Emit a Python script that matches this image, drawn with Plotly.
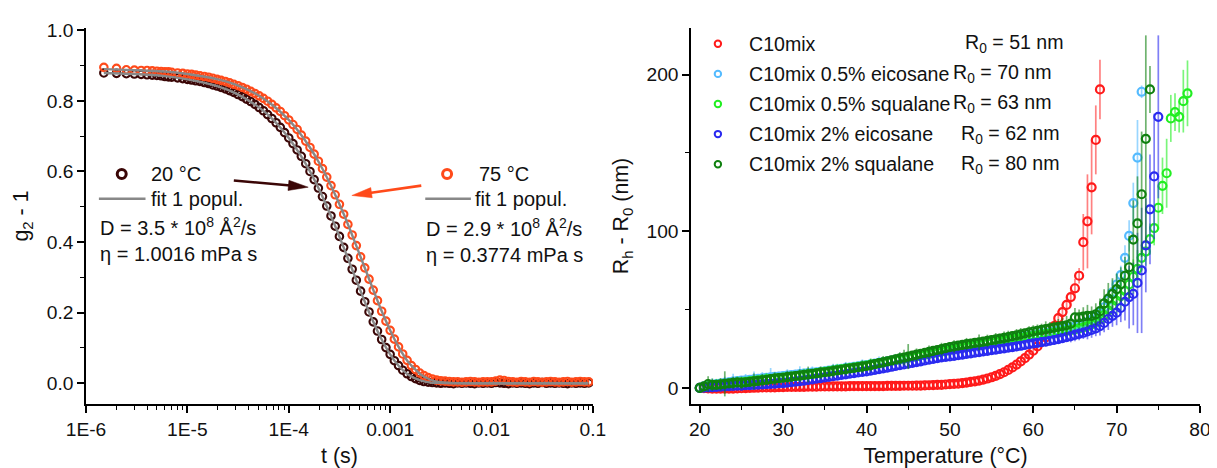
import math
import plotly.graph_objects as go

# ---------------- left panel data: DLS correlation functions ----------------
T_S = [1.5e-6, 2.0e-6, 2.5e-6, 3.0e-6, 3.5e-6, 4.0e-6, 4.5e-6, 5.0e-6, 5.5e-6, 6.0e-6, 6.5e-6, 7.0e-6, 8.0e-6, 9.0e-6,
       1.00e-5, 1.10e-5, 1.21e-5, 1.33e-5, 1.47e-5, 1.62e-5, 1.78e-5, 1.96e-5, 2.15e-5, 2.37e-5, 2.61e-5, 2.87e-5,
       3.16e-5, 3.48e-5, 3.83e-5, 4.22e-5, 4.64e-5, 5.11e-5, 5.62e-5, 6.19e-5, 6.81e-5, 7.50e-5, 8.25e-5, 9.09e-5,
       1.00e-4, 1.10e-4, 1.21e-4, 1.33e-4, 1.47e-4, 1.62e-4, 1.78e-4, 1.96e-4, 2.15e-4, 2.37e-4, 2.61e-4, 2.87e-4,
       3.16e-4, 3.48e-4, 3.83e-4, 4.22e-4, 4.64e-4, 5.11e-4, 5.62e-4, 6.19e-4, 6.81e-4, 7.50e-4, 8.25e-4, 9.09e-4,
       1.00e-3, 1.10e-3, 1.21e-3, 1.33e-3, 1.47e-3, 1.62e-3, 1.78e-3, 1.96e-3, 2.15e-3, 2.37e-3, 2.61e-3, 2.87e-3,
       3.16e-3, 3.48e-3, 3.83e-3, 4.22e-3, 4.64e-3, 5.11e-3, 5.62e-3, 6.19e-3, 6.81e-3, 7.50e-3, 8.25e-3, 9.09e-3,
       1.00e-2, 1.10e-2, 1.21e-2, 1.33e-2, 1.47e-2, 1.62e-2, 1.78e-2, 1.96e-2, 2.15e-2, 2.37e-2, 2.61e-2, 2.87e-2,
       3.16e-2, 3.48e-2, 3.83e-2, 4.22e-2, 4.64e-2, 5.11e-2, 5.62e-2, 6.19e-2, 6.81e-2, 7.50e-2, 8.25e-2, 9.09e-2]

G_20C = [0.879, 0.878, 0.877, 0.876, 0.875, 0.874, 0.873, 0.872, 0.871, 0.869, 0.868, 0.867, 0.865, 0.863,
         0.861, 0.859, 0.857, 0.855, 0.852, 0.849, 0.845, 0.842, 0.838, 0.834, 0.829, 0.824,
         0.818, 0.812, 0.805, 0.798, 0.790, 0.781, 0.772, 0.761, 0.750, 0.738, 0.725, 0.710,
         0.695, 0.679, 0.661, 0.643, 0.622, 0.600, 0.577, 0.553, 0.529, 0.502, 0.474, 0.445,
         0.416, 0.385, 0.354, 0.323, 0.292, 0.261, 0.231, 0.202, 0.174, 0.148, 0.124, 0.101,
         0.082, 0.064, 0.050, 0.037, 0.027, 0.019, 0.013, 0.008, 0.005, 0.003, 0.002, 0.001,
         0.000, 0.001, 0.000, -0.001, 0.001, 0.000, 0.001, 0.000, -0.001, 0.001, 0.000, 0.001,
         0.000, 0.002, 0.001, 0.000, -0.001, 0.001, 0.000, 0.001, 0.000, -0.001, 0.001, 0.000,
         0.002, 0.000, 0.001, 0.000, 0.001, 0.000, -0.001, 0.001, 0.000, 0.001, 0.000, 0.001]

G_75C = [0.895, 0.892, 0.888, 0.887, 0.886, 0.886, 0.885, 0.884, 0.883, 0.882, 0.882, 0.881, 0.879, 0.878,
         0.876, 0.875, 0.873, 0.871, 0.869, 0.867, 0.864, 0.861, 0.858, 0.855, 0.851, 0.847,
         0.843, 0.838, 0.833, 0.827, 0.821, 0.814, 0.807, 0.799, 0.790, 0.780, 0.770, 0.758,
         0.746, 0.733, 0.719, 0.703, 0.686, 0.668, 0.649, 0.629, 0.608, 0.584, 0.560, 0.534,
         0.507, 0.479, 0.450, 0.420, 0.390, 0.358, 0.327, 0.295, 0.264, 0.234, 0.204, 0.176,
         0.150, 0.125, 0.103, 0.083, 0.065, 0.050, 0.039, 0.029, 0.022, 0.016, 0.012, 0.009,
         0.007, 0.006, 0.005, 0.004, 0.004, 0.003, 0.004, 0.005, 0.004, 0.003, 0.004, 0.004,
         0.004, 0.006, 0.009, 0.008, 0.005, 0.004, 0.003, 0.005, 0.004, 0.003, 0.005, 0.004,
         0.003, 0.004, 0.005, 0.004, 0.003, 0.004, 0.005, 0.003, 0.004, 0.005, 0.004, 0.004]

FIT_T = [1.5e-6, 3e-6, 6e-6, 1e-5, 2e-5, 3e-5, 5e-5, 7e-5, 1e-4, 1.3e-4, 1.6e-4, 2e-4, 2.5e-4, 3e-4, 3.5e-4, 4e-4,
         5e-4, 6e-4, 7e-4, 8e-4, 1e-3, 1.2e-3, 1.5e-3, 2e-3, 2.5e-3, 3e-3, 4e-3, 6e-3, 1e-2, 3e-2, 9e-2]
FIT_20C = [0.879, 0.876, 0.870, 0.861, 0.841, 0.821, 0.783, 0.747, 0.695, 0.647, 0.603, 0.548, 0.486, 0.432, 0.383, 0.340,
           0.268, 0.211, 0.167, 0.131, 0.082, 0.051, 0.025, 0.008, 0.002, 0.001, 0.000, 0.000, 0.000, 0.000, 0.000]
FIT_75C = [0.890, 0.887, 0.883, 0.876, 0.861, 0.846, 0.816, 0.787, 0.746, 0.707, 0.670, 0.624, 0.571, 0.522, 0.478, 0.437,
           0.365, 0.306, 0.256, 0.214, 0.150, 0.105, 0.061, 0.025, 0.010, 0.004, 0.001, 0.000, 0.000, 0.000, 0.000]

X_TICKS = [1e-6, 1e-5, 1e-4, 1e-3, 1e-2, 1e-1]
X_TICKTEXT = ["1E-6", "1E-5", "1E-4", "0.001", "0.01", "0.1"]

# ---------------- right panel data: Rh - R0 vs temperature ----------------
TEMP = [20.0, 20.5, 21.0, 21.5, 22.0, 22.5, 23.0, 23.5, 24.0, 24.5,
        25.0, 25.5, 26.0, 26.5, 27.0, 27.5, 28.0, 28.5, 29.0, 29.5,
        30.0, 30.5, 31.0, 31.5, 32.0, 32.5, 33.0, 33.5, 34.0, 34.5,
        35.0, 35.5, 36.0, 36.5, 37.0, 37.5, 38.0, 38.5, 39.0, 39.5,
        40.0, 40.5, 41.0, 41.5, 42.0, 42.5, 43.0, 43.5, 44.0, 44.5,
        45.0, 45.5, 46.0, 46.5, 47.0, 47.5, 48.0, 48.5, 49.0, 49.5,
        50.0, 50.5, 51.0, 51.5, 52.0, 52.5, 53.0, 53.5, 54.0, 54.5,
        55.0, 55.5, 56.0, 56.5, 57.0, 57.5, 58.0, 58.5, 59.0, 59.5,
        60.0, 60.5, 61.0, 61.5, 62.0, 62.5, 63.0, 63.5, 64.0, 64.5,
        65.0, 65.5, 66.0, 66.5, 67.0, 67.5, 68.0, 68.5, 69.0, 69.5,
        70.0, 70.5, 71.0, 71.5, 72.0, 72.5, 73.0, 73.5, 74.0, 74.5,
        75.0, 75.5, 76.0, 76.5, 77.0, 77.5, 78.0, 78.5]

RH_C10 = [0.0, -0.2, -0.3, -0.4, -0.5, -0.5, -0.5, -0.4, -0.4, -0.3,
          -0.2, -0.1, 0.0, 0.1, 0.2, 0.3, 0.3, 0.4, 0.4, 0.5,
          0.5, 0.6, 0.6, 0.7, 0.7, 0.7, 0.8, 0.8, 0.8, 0.9,
          0.9, 0.9, 1.0, 1.0, 1.0, 1.0, 1.1, 1.1, 1.1, 1.1,
          1.2, 1.2, 1.2, 1.2, 1.2, 1.3, 1.3, 1.3, 1.3, 1.4,
          1.4, 1.4, 1.5, 1.5, 1.6, 1.7, 1.8, 1.9, 2.0, 2.2,
          2.4, 2.6, 2.8, 3.1, 3.4, 3.8, 4.2, 4.7, 5.3, 6.0,
          6.8, 7.7, 8.8, 10.0, 11.5, 13.1, 14.9, 16.9, 19.0, 21.3,
          23.8, 26.5, 29.3, 32.2, 35.5, 39.5, 44.5, 48.4, 53.0, 58.0,
          63.6, 71.6, 93.0, 106.3, 128.0, 158.3, 190.5]
ERR_C10 = [1, 1, 1, 1, 1, 1, 1, 1, 1, 1,
           1, 1, 1, 1, 1, 1, 1, 1, 1, 1,
           1, 1, 1, 1, 1, 1, 1, 1, 1, 1,
           1, 1, 1, 1, 1, 1, 1, 1, 1, 1,
           1, 1, 1, 1, 1, 1, 1, 1, 1, 1,
           1, 1, 1, 1, 1, 1, 1.5, 1, 1, 1.5,
           1.5, 1.5, 1.5, 1.5, 2, 2, 2, 2, 2, 2,
           2, 2, 2.5, 2.5, 2.5, 2.5, 3, 3, 3, 3,
           3, 3, 3.5, 3.5, 4, 4, 4.5, 5, 5, 5.5,
           6, 5, 18, 30, 30, 22, 19]

RH_EIC05 = [0.0, 1.0, 1.6, 2.0, 2.4, 2.8, 3.2, 3.6, 4.0, 4.3,
            4.6, 4.9, 5.2, 5.5, 5.8, 6.1, 6.4, 6.7, 7.0, 7.3,
            7.6, 7.9, 8.2, 8.5, 8.8, 9.1, 9.4, 9.7, 10.0, 10.3,
            10.6, 11.0, 11.4, 11.8, 12.2, 12.6, 13.0, 13.4, 13.8, 14.2,
            14.6, 15.0, 15.5, 16.0, 16.5, 17.0, 17.5, 18.0, 18.5, 19.0,
            19.5, 20.0, 20.5, 21.0, 21.5, 22.0, 22.5, 23.0, 23.5, 24.0,
            24.5, 25.0, 25.5, 26.0, 26.5, 27.0, 27.5, 28.0, 28.5, 29.0,
            29.5, 30.0, 30.4, 30.8, 31.2, 31.6, 32.0, 32.4, 32.8, 33.2,
            33.6, 34.0, 34.5, 35.0, 35.5, 36.0, 36.6, 37.2, 37.8, 38.5,
            39.2, 40.0, 41.0, 42.0, 43.5, 45.5, 48.0, 51.5, 56.0, 61.0,
            66.0, 72.0, 83.0, 97.0, 118.0, 147.0, 189.0]
ERR_EIC05 = [2, 3, 3, 4, 3, 2, 4, 3, 5, 3,
             3, 4, 3, 5, 3, 4, 3, 6, 3, 3,
             3, 4, 3, 3, 5, 3, 3, 4, 3, 3,
             3, 3, 4, 3, 3, 4, 3, 3, 3, 4,
             3, 3, 3, 4, 3, 3, 3, 3, 4, 3,
             3, 3, 3, 3, 4, 3, 3, 3, 3, 3,
             3, 3, 3, 4, 3, 3, 3, 3, 3, 3,
             3, 3, 4, 3, 3, 3, 3, 4, 3, 3,
             3, 3, 3, 3, 4, 3, 3, 3, 4, 4,
             4, 4, 4, 5, 5, 5, 6, 6, 7, 8,
             5, 6, 8, 10, 13, 24, 4]

RH_SQU05 = [0.0, 0.5, 1.0, 1.4, 1.8, 2.1, 2.4, 2.7, 3.0, 3.3,
            3.6, 3.9, 4.2, 4.5, 4.8, 5.1, 5.4, 5.7, 6.0, 6.3,
            6.6, 6.9, 7.2, 7.5, 7.8, 8.2, 8.6, 9.0, 9.4, 9.8,
            10.2, 10.6, 11.0, 11.4, 11.8, 12.2, 12.6, 13.0, 13.4, 13.8,
            14.2, 14.7, 15.2, 15.7, 16.2, 16.7, 17.2, 17.7, 18.2, 18.7,
            19.2, 19.7, 20.2, 20.7, 21.2, 21.7, 22.2, 22.7, 23.2, 23.7,
            24.2, 24.7, 25.2, 25.7, 26.2, 26.7, 27.2, 27.7, 28.2, 28.7,
            29.1, 29.5, 29.9, 30.3, 30.7, 31.1, 31.5, 31.9, 32.3, 32.7,
            33.1, 33.5, 33.9, 34.3, 34.7, 35.1, 35.5, 35.9, 36.4, 36.9,
            37.4, 38.0, 38.7, 39.5, 40.5, 42.0, 44.0, 46.5, 49.5, 52.5,
            55.5, 58.5, 62.0, 66.0, 71.0, 76.0, 83.0, 87.0, 95.0, 102.0,
            115.0, 129.0, 137.0, 172.0, 176.0, 173.0, 183.0, 188.0]
ERR_SQU05 = [2, 3, 3, 2, 4, 3, 2, 3, 3, 4,
             3, 2, 3, 3, 2, 3, 4, 3, 2, 3,
             3, 3, 2, 3, 3, 4, 3, 3, 3, 2,
             3, 3, 3, 4, 3, 3, 2, 3, 3, 3,
             3, 4, 3, 3, 3, 3, 3, 4, 3, 3,
             3, 3, 4, 3, 3, 3, 3, 3, 4, 3,
             3, 3, 3, 3, 4, 3, 3, 3, 3, 3,
             3, 4, 3, 3, 3, 3, 4, 3, 3, 3,
             4, 3, 3, 4, 3, 4, 4, 4, 4, 5,
             5, 5, 5, 6, 6, 6, 7, 7, 8, 8,
             9, 9, 10, 10, 11, 12, 8, 9, 10, 11,
             14, 18, 22, 15, 12, 10, 20, 21]

RH_EIC2 = [0.0, 0.2, 0.4, 0.5, 0.7, 0.8, 1.0, 1.1, 1.3, 1.4,
           1.5, 1.7, 1.8, 2.0, 2.1, 2.3, 2.4, 2.6, 2.8, 3.0,
           3.1, 3.4, 3.7, 4.0, 4.3, 4.7, 5.1, 5.5, 5.9, 6.3,
           6.7, 7.1, 7.5, 7.9, 8.3, 8.7, 9.1, 9.5, 9.9, 10.2,
           10.5, 11.0, 11.5, 12.0, 12.5, 13.0, 13.5, 14.0, 14.5, 15.0,
           15.5, 16.0, 16.5, 17.0, 17.5, 18.0, 18.5, 19.0, 19.5, 19.8,
           20.1, 20.5, 20.9, 21.3, 21.7, 22.1, 22.5, 22.9, 23.3, 23.7,
           24.1, 24.5, 24.9, 25.3, 25.7, 26.1, 26.5, 26.9, 27.4, 27.9,
           28.4, 28.8, 29.2, 29.6, 30.1, 30.6, 31.2, 31.8, 32.4, 33.1,
           33.8, 34.5, 35.2, 36.0, 37.0, 38.0, 39.5, 41.5, 44.0, 46.0,
           48.0, 51.0, 55.0, 58.0, 60.0, 67.0, 75.0, 91.0, 114.0, 135.0,
           173.0]
ERR_EIC2 = [1, 1, 1, 1, 2, 1, 1, 1, 2, 1,
            1, 2, 1, 1, 1, 2, 1, 1, 1, 2,
            1, 1, 2, 1, 1, 2, 1, 1, 2, 1,
            2, 1, 1, 2, 1, 2, 1, 2, 1, 2,
            2, 2, 2, 2, 3, 2, 2, 2, 2, 2,
            2, 2, 3, 2, 2, 2, 2, 3, 2, 2,
            2, 2, 2, 3, 2, 2, 2, 2, 3, 2,
            2, 2, 2, 3, 2, 2, 3, 2, 2, 3,
            3, 2, 3, 3, 3, 3, 3, 3, 3, 4,
            4, 4, 4, 5, 5, 5, 6, 6, 7, 7,
            8, 9, 12, 20, 20, 32, 40, 30, 35, 40,
            52]

RH_SQU2 = [0.0, 1.0, 2.5, 2.0, 2.0, 2.3, 2.6, 2.9, 3.2, 3.5,
           3.2, 3.5, 3.9, 4.2, 4.5, 4.9, 5.2, 5.6, 5.9, 6.2,
           6.5, 6.9, 7.2, 7.6, 7.9, 8.3, 8.6, 9.0, 9.3, 9.7,
           10.0, 10.4, 10.8, 11.2, 11.6, 12.0, 12.4, 12.8, 13.2, 13.6,
           14.0, 14.6, 15.2, 15.8, 16.4, 17.0, 17.6, 18.2, 18.8, 19.4,
           20.0, 20.6, 21.2, 21.8, 22.4, 23.0, 23.6, 24.2, 24.8, 25.4,
           26.0, 26.5, 27.0, 27.5, 27.9, 28.3, 28.7, 29.1, 29.5, 30.0,
           30.5, 31.0, 31.5, 32.0, 32.5, 33.0, 33.6, 34.2, 34.8, 35.4,
           36.0, 36.5, 37.0, 37.5, 38.0, 38.5, 39.0, 39.5, 40.0, 41.0,
           45.0, 45.0, 45.5, 46.0, 46.0, 47.0, 49.0, 54.0, 57.0, 60.0,
           63.0, 66.0, 71.6, 77.0, 94.7, 105.0, 123.6, 159.0, 190.5]
ERR_SQU2 = [3, 3, 5, 4, 3, 4, 8, 3, 4, 3,
            4, 3, 3, 5, 3, 4, 3, 3, 4, 3,
            3, 4, 3, 3, 4, 3, 5, 3, 3, 4,
            3, 3, 4, 3, 3, 4, 3, 3, 3, 4,
            3, 4, 3, 3, 4, 3, 3, 3, 4, 5,
            8, 3, 4, 3, 3, 4, 3, 3, 4, 3,
            3, 4, 3, 3, 4, 3, 3, 5, 3, 4,
            3, 4, 3, 4, 4, 3, 4, 4, 3, 4,
            4, 4, 4, 5, 4, 4, 5, 5, 6, 5,
            6, 5, 6, 7, 6, 7, 8, 9, 10, 10,
            10, 11, 12, 20, 25, 30, 40, 66, 15]

SERIES_NAMES = ["C10mix", "C10mix 0.5% eicosane", "C10mix 0.5% squalane",
                "C10mix 2% eicosane", "C10mix 2% squalane"]
R0_LABELS = ["R<sub>0</sub> = 51 nm", "R<sub>0</sub> = 70 nm", "R<sub>0</sub> = 63 nm",
             "R<sub>0</sub> = 62 nm", "R<sub>0</sub> = 80 nm"]
SERIES_VALUES = [RH_C10, RH_EIC05, RH_SQU05, RH_EIC2, RH_SQU2]
SERIES_ERRORS = [ERR_C10, ERR_EIC05, ERR_SQU05, ERR_EIC2, ERR_SQU2]

# ---------------- styles ----------------
COLORS = ["#ff1a1a", "#55bbff", "#22ee22", "#2a2af0", "#0f800f"]
ERR_COLORS = ["rgba(255,26,26,0.55)", "rgba(85,187,255,0.6)", "rgba(34,238,34,0.6)",
              "rgba(42,42,240,0.6)", "rgba(15,128,15,0.6)"]
BROWN = "#3a0606"
ORANGE = "#ff4a1a"
GRAY = "#888888"
FONT = "Liberation Sans, Arial, sans-serif"
TXT = "#111111"
FS_TICK = 19.2
FS_NOTE = 20
FS_LEG = 19.6

W, H = 1217, 468
ML, MR, MT, MB = 77, 17, 17, 70
PW, PH = W - ML - MR, H - MT - MB


def px(x):
    return (x - ML) / PW


def py(y):
    return (H - MB - y) / PH


fig = go.Figure()

# left panel data
for t, g, c in [(T_S, G_20C, BROWN), (T_S, G_75C, ORANGE)]:
    fig.add_trace(go.Scatter(x=t, y=g, mode="markers", xaxis="x", yaxis="y",
                             marker=dict(symbol="circle-open", size=7.5, color=c, line=dict(width=2.1, color=c)),
                             showlegend=False))
for fy in [FIT_20C, FIT_75C]:
    fig.add_trace(go.Scatter(x=FIT_T, y=fy, mode="lines", xaxis="x", yaxis="y",
                             line=dict(color=GRAY, width=2.4, shape="spline", smoothing=0.6),
                             showlegend=False))

# right panel data
for name, vals, errs, col, ecol in zip(SERIES_NAMES, SERIES_VALUES, SERIES_ERRORS, COLORS, ERR_COLORS):
    fig.add_trace(go.Scatter(x=TEMP[:len(vals)], y=vals, mode="markers", xaxis="x2", yaxis="y2", name=name,
                             error_y=dict(type="data", array=errs, visible=True, color=ecol, thickness=1.7, width=0),
                             marker=dict(symbol="circle-open", size=8, color=col, line=dict(width=2.2, color=col)),
                             showlegend=False))

axis_common = dict(showline=True, linecolor="black", linewidth=1.5, ticks="outside", ticklen=7, tickwidth=1.5,
                   tickcolor="black", showgrid=False, zeroline=False, mirror=False,
                   tickfont=dict(family=FONT, size=FS_TICK, color=TXT))
title_font = dict(family=FONT, size=21.4, color=TXT)
minor_style = dict(ticks="outside", ticklen=4, tickwidth=1.2, tickcolor="black", showgrid=False)

minor_log = [k * 10.0 ** e for e in range(-6, -1) for k in range(2, 10)]

fig.update_layout(
    width=W, height=H, margin=dict(l=ML, r=MR, t=MT, b=MB),
    paper_bgcolor="white", plot_bgcolor="white", showlegend=False,
    xaxis=dict(domain=[0, px(588)], type="log", range=[-6, -1], anchor="y",
               tickmode="array", tickvals=X_TICKS, ticktext=X_TICKTEXT,
               minor=dict(tickmode="array", tickvals=minor_log, **minor_style),
               title=dict(text="t (s)", font=title_font, standoff=9), **axis_common),
    yaxis=dict(domain=[0, 1], range=[-0.0587, 1.0064], anchor="x", dtick=0.2, tick0=0, tickformat=".1f",
               minor=dict(dtick=0.1, tick0=0, **minor_style),
               title=dict(text="g<sub>2</sub> - 1", font=title_font, standoff=12), **axis_common),
    xaxis2=dict(domain=[px(687), 1], range=[18.96, 80], anchor="y2", dtick=10, tick0=0,
                minor=dict(dtick=5, tick0=0, **minor_style),
                title=dict(text="Temperature (°C)", font=title_font, standoff=9), **axis_common),
    yaxis2=dict(domain=[0, 1], range=[-10.26, 229.7], anchor="x2", tickmode="array", tickvals=[0, 100, 200],
                minor=dict(tickmode="array", tickvals=[50, 150], **minor_style),
                title=dict(text="R<sub>h</sub> - R<sub>0</sub> (nm)", font=title_font, standoff=12), **axis_common),
)

shapes = []
annotations = []


def text(x, y, s, size):
    annotations.append(dict(xref="paper", yref="paper", x=px(x), y=py(y), text=s, showarrow=False,
                            xanchor="left", yanchor="middle", font=dict(family=FONT, size=size, color=TXT)))


def circle_key(x, y, r, color, w):
    shapes.append(dict(type="circle", xref="paper", yref="paper", xsizemode="pixel", ysizemode="pixel",
                       xanchor=px(x), yanchor=py(y), x0=-r, x1=r, y0=-r, y1=r,
                       line=dict(color=color, width=w), fillcolor="rgba(0,0,0,0)"))


def line_key(x0, x1, y, color):
    shapes.append(dict(type="line", xref="paper", yref="paper", x0=px(x0), x1=px(x1), y0=py(y), y1=py(y),
                       line=dict(color=color, width=2.5)))


def arrow(tail, tip, color, head_len=20.0, head_half=5.2, width=2.6):
    dx, dy = tip[0] - tail[0], tip[1] - tail[1]
    n = math.hypot(dx, dy)
    ux, uy = dx / n, dy / n
    bx, by = tip[0] - head_len * ux, tip[1] - head_len * uy
    pxv, pyv = -uy, ux
    shapes.append(dict(type="line", xref="paper", yref="paper", x0=px(tail[0]), y0=py(tail[1]),
                       x1=px(bx + 2 * ux), y1=py(by + 2 * uy), line=dict(color=color, width=width)))
    c1 = (bx + head_half * pxv, by + head_half * pyv)
    c2 = (bx - head_half * pxv, by - head_half * pyv)
    path = "M {:.5f},{:.5f} L {:.5f},{:.5f} L {:.5f},{:.5f} Z".format(
        px(tip[0]), py(tip[1]), px(c1[0]), py(c1[1]), px(c2[0]), py(c2[1]))
    shapes.append(dict(type="path", xref="paper", yref="paper", path=path,
                       fillcolor=color, line=dict(color=color, width=0.5)))


# left panel keys and text
circle_key(113, 165, 4.5, BROWN, 3)
text(141, 165, "20 °C", FS_NOTE)
line_key(90, 137, 190, GRAY)
text(141, 190, "fit 1 popul.", FS_NOTE)
text(89, 218, "D = 3.5 * 10<sup>8</sup> Å<sup>2</sup>/s", FS_NOTE)
text(89, 246, "η = 1.0016 mPa s", FS_NOTE)

circle_key(441, 165, 4.5, ORANGE, 3)
text(471, 165, "75 °C", FS_NOTE)
line_key(419, 465, 190, GRAY)
text(467, 190, "fit 1 popul.", FS_NOTE)
text(418, 219, "D = 2.9 * 10<sup>8</sup> Å<sup>2</sup>/s", FS_NOTE)
text(418, 247, "η = 0.3774 mPa s", FS_NOTE)

arrow((226, 171.5), (301, 178.3), BROWN)
arrow((415, 176.7), (345, 186.7), ORANGE)

# right panel legend
rows = [33, 63.5, 94, 124.5, 155]
r0_x = [961, 949, 949, 957, 957]
for i, (name, r0, col) in enumerate(zip(SERIES_NAMES, R0_LABELS, COLORS)):
    circle_key(714, rows[i], 3.2, col, 2)
    text(743, rows[i], name, FS_LEG)
    text(r0_x[i], rows[i], r0, FS_LEG)

fig.update_layout(shapes=shapes, annotations=annotations)

fig.write_html("out.html")
